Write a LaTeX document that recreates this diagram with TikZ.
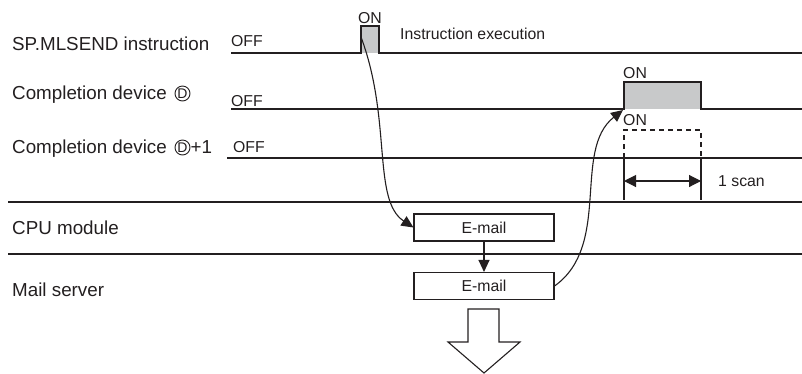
\documentclass[tikz,border=0pt]{standalone}
\usepackage{fontspec}
\setmainfont{Liberation Sans}
\usetikzlibrary{arrows.meta,positioning}
\definecolor{ink}{RGB}{35,31,32}
\definecolor{pulsegray}{RGB}{200,201,202}
\tikzset{
  big/.style={font=\fontsize{18.8}{20}\selectfont, inner sep=0pt, anchor=base west, text=ink},
  small/.style={font=\fontsize{15.8}{17}\selectfont, inner sep=0pt, anchor=base west, text=ink},
  circD/.style={draw=ink, circle, line width=0.9pt, minimum size=15pt, inner sep=0pt,
    font=\fontsize{14}{15}\selectfont, text=ink},
  sig/.style={draw=ink, line width=1.1pt},
  sep/.style={draw=ink, line width=2.4pt},
  mailbox/.style={draw=ink, line width=1.1pt, minimum width=140pt, minimum height=27pt,
    inner sep=0pt, font=\fontsize{15.8}{17}\selectfont, text=ink},
  tip/.style={-{Triangle[length=12pt,width=11pt]}}
}
\begin{document}
\begin{tikzpicture}[x=1pt,y=-1pt]
  \useasboundingbox (0,0) rectangle (802,373);
  \node[big] (inst) at (12,50) {SP.MLSEND instruction};
  \node[big] (dev) at (12,99) {Completion device};
  \node[circD] (devD) at (182.5,93.5) {D};
  \node[big] (devp) at (12,153) {Completion device};
  \node[circD] (devpD) at (182.5,147.5) {D};
  \node[big] (plus) at (190.5,153) {+1};
  \node[big] (cpu) at (12,234) {CPU module};
  \node[big] (srv) at (12,296) {Mail server};
  \node[small] (off1) at (231,46.7) {OFF};
  \node[small] (off2) at (231,106.5) {OFF};
  \node[small] (off3) at (233,152.7) {OFF};
  \node[small] (on1) at (358,23.3) {ON};
  \node[small] (exec) at (400,39) {Instruction execution};
  \node[small] (on2) at (623,78.3) {ON};
  \node[small] (on3) at (623,125) {ON};
  \node[small] (scan) at (718,186.7) {1 scan};
  \fill[pulsegray] (361,26) rectangle (379,53);
  \fill[pulsegray] (624,82) rectangle (701,109);
  \draw[sig] (231,53) -- (361,53) -- (361,26) -- (379,26) -- (379,53) -- (802,53);
  \draw[sig] (231,109) -- (624,109) -- (624,82) -- (701,82) -- (701,109) -- (802,109);
  \draw[sig] (227,158) -- (802,158);
  \draw[sig, dashed, dash pattern=on 5pt off 4pt] (624,158) -- (624,130) -- (701,130) -- (701,158);
  \draw[sig] (624,158) -- (624,200);
  \draw[sig] (701,158) -- (701,200);
  \coordinate (scanL) at (624,181);
  \coordinate (scanR) at (701,181);
  \draw[sig, {Triangle[length=12pt,width=12pt]}-{Triangle[length=12pt,width=12pt]}] (scanL) -- (scanR);
  \draw[sep] (8,202) -- (802,202);
  \draw[sep] (8,254) -- (802,254);
  \node[mailbox] (mail1) at (484,227.5) {E-mail};
  \node[mailbox] (mail2) at (484,286) {E-mail};
  \coordinate (start) at (361,37);
  \coordinate (done) at (623,110);
  \draw[sig, tip] (start) .. controls (392,120) and (372,200) .. (mail1.west);
  \draw[sig, tip] (mail1.south) -- (mail2.north);
  \draw[sig, tip] (mail2.east) .. controls (612,245) and (572,150) .. (done);
  \draw[sig] (468,309) -- (499,309) -- (499,342) -- (520,342) -- (484,373)
    -- (448,342) -- (468,342) -- cycle;
\end{tikzpicture}
\end{document}
